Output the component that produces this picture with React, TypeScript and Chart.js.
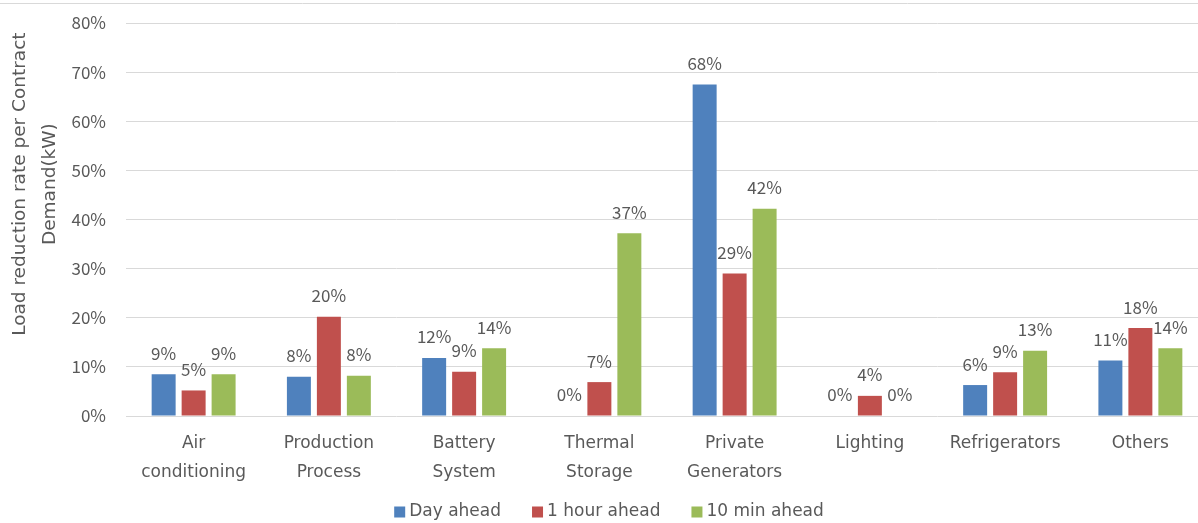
import React, { useEffect, useRef } from "react";
import { Chart, registerables } from "chart.js";

Chart.register(...registerables);

// Equipment categories (multi-line axis labels)
const categories: (string | string[])[] = [
  ["Air", "conditioning"],
  ["Production", "Process"],
  ["Battery", "System"],
  ["Thermal", "Storage"],
  ["Private", "Generators"],
  "Lighting",
  "Refrigerators",
  "Others",
];

// Load reduction rate (%) per contract demand
const dayAhead = [8.5, 8.0, 11.8, 0, 67.5, 0, 6.3, 11.3];
const hourAhead = [5.2, 20.2, 9.0, 6.9, 29.0, 4.1, 8.9, 17.9];
const tenMinAhead = [8.5, 8.2, 13.8, 37.2, 42.2, 0, 13.3, 13.8];

const seriesNames = ["Day ahead", "1 hour ahead", "10 min ahead"];
const seriesColors = ["#4F81BD", "#C0504D", "#9BBB59"];

const yTicks = [0, 10, 20, 30, 40, 50, 60, 70, 80];
const yTitle = ["Load reduction rate per Contract", "Demand(kW)"];

const NUM_FONT = "'Noto Sans CJK JP', 'Noto Sans', sans-serif";
const WORD_FONT = "'DejaVu Sans', sans-serif";
const TEXT = "#595959";
const GRID = "#D9D9D9";

// Value labels above each bar, the rotated y-axis title, the legend row and the frame line
const decorations = {
  id: "decorations",
  afterDatasetsDraw(chart: any) {
    const ctx = chart.ctx as CanvasRenderingContext2D;
    ctx.save();
    ctx.font = `17px ${NUM_FONT}`;
    ctx.fillStyle = TEXT;
    ctx.textAlign = "center";
    ctx.textBaseline = "middle";
    chart.data.datasets.forEach((ds: any, i: number) => {
      const meta = chart.getDatasetMeta(i);
      meta.data.forEach((bar: any, j: number) => {
        const v = ds.data[j] as number;
        ctx.fillText(`${Math.round(v)}%`, bar.x, bar.y - 21);
      });
    });
    ctx.restore();
  },
  afterDraw(chart: any) {
    const ctx = chart.ctx as CanvasRenderingContext2D;
    const area = chart.chartArea;
    ctx.save();

    // frame line along the top
    ctx.strokeStyle = GRID;
    ctx.lineWidth = 1;
    ctx.beginPath();
    ctx.moveTo(0, 3.5);
    ctx.lineTo(chart.width, 3.5);
    ctx.stroke();

    // y-axis title, two rotated lines
    ctx.fillStyle = TEXT;
    ctx.font = `18.5px ${WORD_FONT}`;
    ctx.textAlign = "center";
    ctx.textBaseline = "middle";
    const cy = area.top + (area.bottom - area.top) * 0.41;
    yTitle.forEach((line, k) => {
      ctx.save();
      ctx.translate(20 + k * 30, cy);
      ctx.rotate(-Math.PI / 2);
      ctx.fillText(line, 0, 0);
      ctx.restore();
    });

    // legend
    ctx.font = `17px ${WORD_FONT}`;
    const box = 11;
    const textGap = 4;
    const itemGap = 31;
    ctx.textAlign = "left";
    const widths = seriesNames.map((n) => ctx.measureText(n).width);
    const total =
      widths.reduce((a, b) => a + b, 0) +
      seriesNames.length * (box + textGap) +
      (seriesNames.length - 1) * itemGap;
    let x = 609 - total / 2;
    const ly = 512;
    seriesNames.forEach((name, k) => {
      ctx.fillStyle = seriesColors[k];
      ctx.fillRect(x, ly - box / 2, box, box);
      x += box + textGap;
      ctx.fillStyle = TEXT;
      ctx.fillText(name, x, ly);
      x += widths[k] + itemGap;
    });
    ctx.restore();
  },
};

export default function App() {
  const canvasRef = useRef<HTMLCanvasElement | null>(null);

  useEffect(() => {
    if (!canvasRef.current) return;
    const values = [dayAhead, hourAhead, tenMinAhead];
    const chart = new Chart(canvasRef.current, {
      type: "bar",
      data: {
        labels: categories,
        datasets: values.map((data, i) => ({
          label: seriesNames[i],
          data,
          backgroundColor: seriesColors[i],
          borderWidth: 0,
          categoryPercentage: 0.665,
          barPercentage: 0.8,
        })),
      },
      options: {
        animation: false,
        responsive: true,
        maintainAspectRatio: false,
        layout: { padding: { top: 23, right: 2, bottom: 0, left: 0 } },
        plugins: {
          legend: { display: false },
          tooltip: { enabled: false },
        },
        scales: {
          x: {
            grid: { display: false, drawTicks: false },
            border: { display: false },
            ticks: {
              color: TEXT,
              font: { family: WORD_FONT, size: 17, lineHeight: 1.72 },
              padding: 13,
              maxRotation: 0,
              autoSkip: false,
            },
            afterFit(scale: any) {
              scale.height = 107;
              scale.paddingLeft = 0;
              scale.paddingRight = 0;
              scale.paddingTop = 0;
              scale.paddingBottom = 0;
            },
          },
          y: {
            min: 0,
            max: 80,
            grid: { color: GRID, drawTicks: false, lineWidth: 1 },
            border: { display: false },
            afterBuildTicks(scale: any) {
              scale.ticks = yTicks.map((v) => ({ value: v }));
            },
            ticks: {
              color: TEXT,
              font: { family: NUM_FONT, size: 17 },
              padding: 20,
              callback: (v: any) => `${v}%`,
            },
            afterFit(scale: any) {
              scale.width = 126;
              scale.paddingTop = 0;
              scale.paddingBottom = 0;
            },
          },
        },
      },
      plugins: [decorations],
    });
    return () => chart.destroy();
  }, []);

  return (
    <div
      style={{
        position: "absolute",
        left: 0,
        top: 0,
        width: 1198,
        height: 523,
        overflow: "hidden",
        background: "#fff",
      }}
    >
      <div style={{ position: "relative", width: 1210, height: 523 }}>
        <canvas ref={canvasRef} />
      </div>
    </div>
  );
}
